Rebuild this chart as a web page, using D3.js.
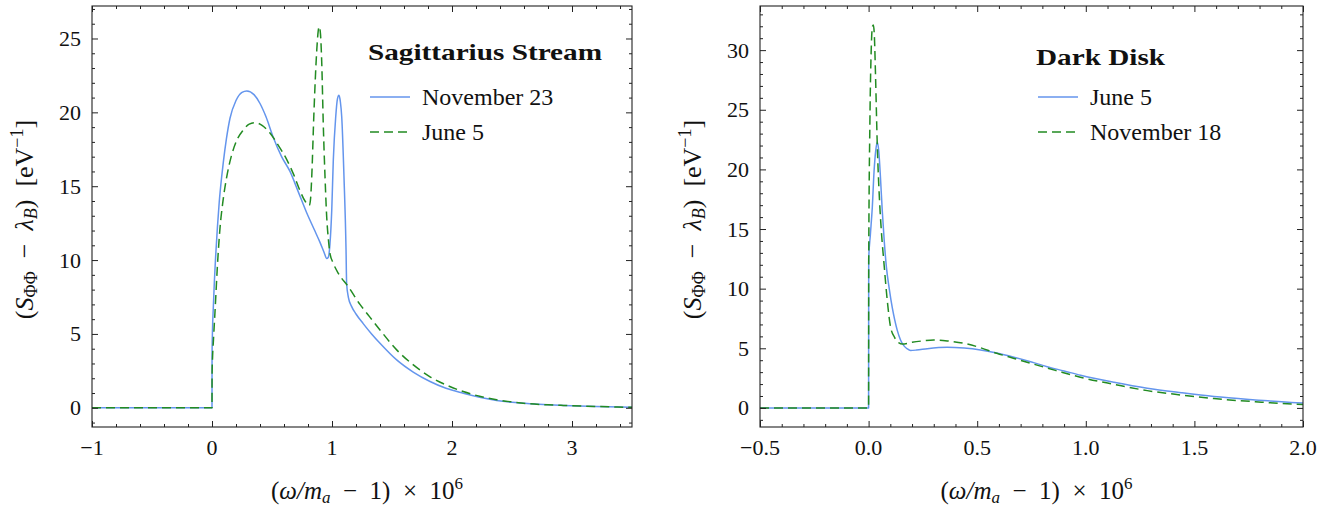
<!DOCTYPE html>
<html><head><meta charset="utf-8">
<script src="https://cdn.jsdelivr.net/npm/d3@7"></script>
<style>
body{margin:0;background:#fff}
svg{display:block}
text{font-family:"Liberation Serif","Times New Roman",serif;fill:#111}
</style>
</head><body>
<svg id="chart" width="1338" height="513"></svg>
<script>
// ---------- DATA ----------
// Left panel: Sagittarius Stream
const sagNovX = [-1, 0, 0.0005, 0.004, 0.011, 0.02, 0.03, 0.045, 0.06, 0.08, 0.094, 0.12, 0.15, 0.2, 0.25, 0.29, 0.35, 0.4, 0.45, 0.511, 0.58, 0.65, 0.72, 0.789, 0.85, 0.9, 0.935, 0.956, 0.97, 0.983, 0.998, 1.011, 1.031, 1.045, 1.058, 1.07, 1.081, 1.1, 1.117, 1.122, 1.136, 1.164, 1.2, 1.26, 1.33, 1.4, 1.539, 1.68, 1.817, 1.95, 2.094, 2.23, 2.372, 2.5, 2.65, 2.8, 2.928, 3.2, 3.5];
const sagNovY = [0, 0, 3.5, 5.2, 6.8, 8.6, 10.2, 12.2, 13.9, 15.6, 16.6, 18.2, 19.6, 20.8, 21.35, 21.45, 21.2, 20.6, 19.7, 18.3, 17.0, 16.0, 14.6, 13.2, 12.1, 11.2, 10.5, 10.1, 10.2, 11.1, 13.4, 16.8, 19.7, 20.9, 21.15, 20.7, 19.7, 15.6, 10.7, 8.4, 7.5, 6.85, 6.35, 5.7, 5.0, 4.37, 3.24, 2.4, 1.78, 1.32, 0.99, 0.72, 0.5, 0.37, 0.27, 0.2, 0.16, 0.09, 0.03];
const sagJunX = [-1, 0, 0.0005, 0.005, 0.012, 0.025, 0.045, 0.067, 0.09, 0.122, 0.16, 0.206, 0.26, 0.31, 0.36, 0.42, 0.483, 0.55, 0.623, 0.68, 0.733, 0.775, 0.8, 0.811, 0.822, 0.831, 0.85, 0.873, 0.885, 0.894, 0.904, 0.914, 0.928, 0.942, 0.956, 0.97, 0.983, 1.01, 1.053, 1.136, 1.233, 1.3, 1.4, 1.539, 1.678, 1.817, 1.95, 2.094, 2.23, 2.372, 2.5, 2.65, 2.8, 2.928, 3.2, 3.5];
const sagJunY = [0, 0, 2.2, 3.5, 4.6, 6.5, 9.6, 12.2, 13.9, 15.6, 17.0, 18.1, 18.8, 19.2, 19.3, 19.1, 18.6, 17.8, 16.8, 15.8, 14.7, 14.0, 13.75, 13.7, 14.2, 15.6, 20.1, 24.2, 25.5, 25.8, 25.3, 23.5, 19.0, 15.6, 12.9, 11.4, 10.45, 9.8, 9.1, 8.2, 7.0, 6.3, 5.27, 3.92, 2.9, 2.1, 1.55, 1.1, 0.78, 0.54, 0.4, 0.27, 0.2, 0.16, 0.09, 0.03];

// Right panel: Dark Disk
const diskJunX = [-0.5, 0, 0.0005, 0.008, 0.017, 0.025, 0.033, 0.04, 0.047, 0.055, 0.063, 0.072, 0.082, 0.095, 0.109, 0.12, 0.132, 0.147, 0.163, 0.178, 0.193, 0.22, 0.27, 0.362, 0.44, 0.515, 0.59, 0.669, 0.75, 0.822, 0.9, 0.976, 1.13, 1.283, 1.44, 1.59, 1.78, 1.97, 2.0];
const diskJunY = [0, 0, 12.5, 14.5, 16.8, 19.8, 21.6, 22.3, 21.5, 19.2, 16.5, 14.0, 11.8, 10.0, 8.4, 7.4, 6.5, 5.7, 5.2, 4.95, 4.82, 4.85, 4.97, 5.09, 5.02, 4.86, 4.6, 4.25, 3.85, 3.46, 3.1, 2.74, 2.15, 1.65, 1.27, 0.95, 0.67, 0.44, 0.42];
const diskNovX = [-0.5, 0, 0.0005, 0.006, 0.012, 0.018, 0.022, 0.027, 0.032, 0.04, 0.05, 0.06, 0.07, 0.086, 0.101, 0.12, 0.14, 0.155, 0.2, 0.25, 0.3, 0.37, 0.44, 0.515, 0.59, 0.67, 0.745, 0.86, 0.975, 1.13, 1.283, 1.44, 1.59, 1.78, 1.97, 2.0];
const diskNovY = [0, 0, 12, 24, 30, 32, 32.1, 31, 27.8, 22, 17.5, 14.5, 12.3, 9.0, 6.8, 5.9, 5.45, 5.35, 5.5, 5.62, 5.7, 5.6, 5.42, 5.05, 4.58, 4.15, 3.75, 3.15, 2.57, 1.98, 1.45, 1.08, 0.78, 0.52, 0.31, 0.29];

// Ticks
const leftXTicks = [-1, 0, 1, 2, 3];
const leftYTicks = [0, 5, 10, 15, 20, 25];
const rightXTicks = [-0.5, 0, 0.5, 1, 1.5, 2];
const rightYTicks = [0, 5, 10, 15, 20, 25, 30];

// Legends
const leftLegendTitle = "Sagittarius Stream";
const leftSeriesNames = ["November 23", "June 5"];
const rightLegendTitle = "Dark Disk";
const rightSeriesNames = ["June 5", "November 18"];

// ---------- DRAW ----------
const BLUE = "#6495ED", GREEN = "#228B22";
const svg = d3.select("#chart");
const minus = s => s.replace(/-/g, "\u2212");

function panel(cfg) {
  const {x0, x1, y0, y1, xDom, yDom, xTicks, yTicks, xMinor, yMinor, xFmt, series, legend, id} = cfg;
  const x = d3.scaleLinear().domain(xDom).range([x0, x1]);
  const y = d3.scaleLinear().domain(yDom).range([y1, y0]);
  const g = svg.append("g");

  g.append("clipPath").attr("id", id).append("rect")
    .attr("x", x0).attr("y", y0).attr("width", x1 - x0).attr("height", y1 - y0);

  const line = d3.line().x(d => x(d[0])).y(d => y(d[1])).curve(d3.curveMonotoneX);
  series.forEach(s => {
    g.append("path").datum(d3.zip(s.x, s.y))
      .attr("clip-path", `url(#${id})`)
      .attr("fill", "none").attr("stroke", s.color).attr("stroke-width", 1.5)
      .attr("stroke-dasharray", s.dash || null)
      .attr("stroke-linejoin", "round")
      .attr("d", line);
  });

  // frame
  g.append("rect").attr("x", x0).attr("y", y0).attr("width", x1 - x0).attr("height", y1 - y0)
    .attr("fill", "none").attr("stroke", "#222").attr("stroke-width", 1.1);

  // ticks (inward on all sides) via axes
  const fmtNone = () => "";
  const ax = [
    [d3.axisBottom(x).tickValues(xTicks).tickFormat(fmtNone).tickSizeInner(-6).tickSizeOuter(0), `translate(0,${y1})`],
    [d3.axisTop(x).tickValues(xTicks).tickFormat(fmtNone).tickSizeInner(-6).tickSizeOuter(0), `translate(0,${y0})`],
    [d3.axisBottom(x).tickValues(xMinor).tickFormat(fmtNone).tickSizeInner(-3).tickSizeOuter(0), `translate(0,${y1})`],
    [d3.axisTop(x).tickValues(xMinor).tickFormat(fmtNone).tickSizeInner(-3).tickSizeOuter(0), `translate(0,${y0})`],
    [d3.axisLeft(y).tickValues(yTicks).tickFormat(fmtNone).tickSizeInner(-6).tickSizeOuter(0), `translate(${x0},0)`],
    [d3.axisRight(y).tickValues(yTicks).tickFormat(fmtNone).tickSizeInner(-6).tickSizeOuter(0), `translate(${x1},0)`],
    [d3.axisLeft(y).tickValues(yMinor).tickFormat(fmtNone).tickSizeInner(-3).tickSizeOuter(0), `translate(${x0},0)`],
    [d3.axisRight(y).tickValues(yMinor).tickFormat(fmtNone).tickSizeInner(-3).tickSizeOuter(0), `translate(${x1},0)`]
  ];
  ax.forEach(([a, t]) => {
    const ag = g.append("g").attr("transform", t).call(a);
    ag.select(".domain").remove();
    ag.selectAll("line").attr("stroke", "#222").attr("stroke-width", 1);
  });

  // tick labels
  xTicks.forEach(v => {
    g.append("text").attr("x", x(v)).attr("y", y1 + 28).attr("text-anchor", "middle")
      .attr("font-size", 22).text(minus(xFmt(v)));
  });
  yTicks.forEach(v => {
    g.append("text").attr("x", x0 - 11).attr("y", y(v) + 7.5).attr("text-anchor", "end")
      .attr("font-size", 22).text(minus(String(v)));
  });

  // x label
  const xl = g.append("text").attr("x", (x0 + x1) / 2 + 5).attr("y", 499)
    .attr("text-anchor", "middle").attr("font-size", 25);
  xl.append("tspan").text("(");
  xl.append("tspan").attr("font-style", "italic").text("ω/m");
  xl.append("tspan").attr("font-style", "italic").attr("font-size", 17).attr("dy", 4).text("a");
  xl.append("tspan").attr("dy", -4).text("\u2002\u2212\u20021)\u2002\u00d7\u200210");
  xl.append("tspan").attr("font-size", 17).attr("dy", -10).text("6");

  // y label
  const yl = g.append("text").attr("transform", `translate(${cfg.ylx},${(y0 + y1) / 2 + 3}) rotate(-90)`)
    .attr("text-anchor", "middle").attr("font-size", 26);
  yl.append("tspan").text("(");
  yl.append("tspan").attr("font-style", "italic").text("S");
  yl.append("tspan").attr("font-size", 18).attr("dy", 4).text("ΦΦ");
  yl.append("tspan").attr("dy", -4).text("\u2002\u2212\u2002");
  yl.append("tspan").attr("font-style", "italic").text("λ");
  yl.append("tspan").attr("font-style", "italic").attr("font-size", 18).attr("dy", 4).text("B");
  yl.append("tspan").attr("dy", -4).text(")\u2002[eV");
  yl.append("tspan").attr("font-size", 18).attr("dy", -10).text("\u22121");
  yl.append("tspan").attr("dy", 10).text("]");

  // legend
  g.append("text").attr("x", legend.tx).attr("y", legend.ty).attr("font-weight", "bold")
    .attr("font-size", 24).attr("textLength", legend.tw).attr("lengthAdjust", "spacingAndGlyphs")
    .text(legend.title);
  series.forEach((s, i) => {
    const ly = 97 + i * 35;
    g.append("line").attr("x1", legend.lx).attr("x2", legend.lx + 40).attr("y1", ly).attr("y2", ly)
      .attr("stroke", s.color).attr("stroke-width", 1.5).attr("stroke-dasharray", s.dash || null);
    g.append("text").attr("x", legend.lx + 52).attr("y", ly + 8).attr("font-size", 24).text(s.name);
  });
}

panel({
  id: "clipL", x0: 92, x1: 632, y0: 6, y1: 427,
  xDom: [-1, 3.5], yDom: [-1.3, 27.2],
  xTicks: leftXTicks, yTicks: leftYTicks,
  xMinor: d3.range(-1, 3.5001, 0.2).filter(v => Math.abs(v - Math.round(v)) > 1e-6),
  yMinor: d3.range(-1, 27.01, 1).filter(v => v % 5 !== 0),
  xFmt: v => String(v), ylx: 33,
  series: [
    {x: sagNovX, y: sagNovY, color: BLUE, name: leftSeriesNames[0]},
    {x: sagJunX, y: sagJunY, color: GREEN, dash: "9,5", name: leftSeriesNames[1]}
  ],
  legend: {title: leftLegendTitle, tx: 368, ty: 60, tw: 234, lx: 370}
});

panel({
  id: "clipR", x0: 760, x1: 1303, y0: 6, y1: 427,
  xDom: [-0.5, 2], yDom: [-1.6, 33.7],
  xTicks: rightXTicks, yTicks: rightYTicks,
  xMinor: d3.range(-0.5, 2.0001, 0.1).filter(v => Math.abs(v * 2 - Math.round(v * 2)) > 1e-6),
  yMinor: d3.range(-1, 33.01, 1).filter(v => v % 5 !== 0),
  xFmt: v => v.toFixed(1), ylx: 701,
  series: [
    {x: diskJunX, y: diskJunY, color: BLUE, name: rightSeriesNames[0]},
    {x: diskNovX, y: diskNovY, color: GREEN, dash: "9,5", name: rightSeriesNames[1]}
  ],
  legend: {title: rightLegendTitle, tx: 1036, ty: 65, tw: 129, lx: 1038}
});
</script>
</body></html>
